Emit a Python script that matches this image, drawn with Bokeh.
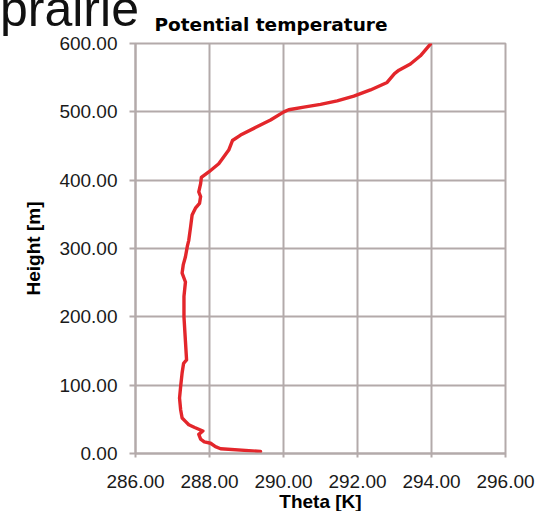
from bokeh.plotting import figure
from bokeh.layouts import column
from bokeh.models import FixedTicker, NumeralTickFormatter, Range1d, Div
from bokeh.embed import file_html
from bokeh.resources import INLINE

# Potential temperature profile (height in m, theta in K), surface upward
height = [3, 7, 10, 15, 17, 21, 28, 33, 38, 42, 47, 52, 64, 81, 98, 118, 132, 137,
          164, 200, 230, 251, 264, 276, 288, 303, 312, 332, 349, 359, 366, 376,
          383, 395, 404, 412, 424, 444, 458, 466, 477, 488, 500, 503, 507, 511,
          516, 523, 532, 543, 556, 561, 570, 582, 599]
theta = [289.38, 288.30, 288.16, 288.03, 287.86, 287.76, 287.71, 287.82, 287.60,
         287.44, 287.35, 287.26, 287.22, 287.19, 287.22, 287.26, 287.30, 287.38,
         287.35, 287.31, 287.31, 287.35, 287.26, 287.29, 287.35, 287.40, 287.44,
         287.49, 287.53, 287.62, 287.73, 287.76, 287.71, 287.76, 287.78, 287.98,
         288.25, 288.52, 288.62, 288.84, 289.24, 289.65, 290.01, 290.14, 290.55,
         291.00, 291.45, 291.90, 292.35, 292.80, 293.00, 293.12, 293.43, 293.70,
         293.97]

x_ticks = [286, 288, 290, 292, 294, 296]
y_ticks = [0, 100, 200, 300, 400, 500, 600]

GRID = "#b3aaaa"
FONT = "Liberation Sans"

p = figure(width=544, height=514, output_backend="svg", toolbar_location=None,
           x_range=Range1d(286, 296), y_range=Range1d(0, 600),
           min_border_left=135, min_border_right=39,
           min_border_top=43, min_border_bottom=60)

p.background_fill_color = "white"
p.border_fill_color = None   # transparent, the slide heading shows through
p.outline_line_color = GRID
p.outline_line_width = 2

# Chart title, left aligned a little inside the frame
p.title.text = "Potential temperature"
p.title.align = "left"
p.title.offset = 19
p.title.standoff = 17
p.title.text_font = "DejaVu Sans"
p.title.text_font_style = "bold"
p.title.text_font_size = "18.5px"
p.title.text_color = "#000000"

p.line(theta, height, line_color="#e3262b", line_width=3.4,
       line_join="round", line_cap="round")

for ax in (p.xaxis[0], p.yaxis[0]):
    ax.axis_line_color = GRID
    ax.axis_line_width = 2
    ax.major_tick_line_color = GRID
    ax.major_tick_line_width = 2
    ax.minor_tick_line_color = None
    ax.major_tick_in = 0
    ax.formatter = NumeralTickFormatter(format="0.00")
    ax.major_label_text_font = FONT
    ax.major_label_text_font_size = "19px"
    ax.major_label_text_color = "#1a1a1a"
    ax.axis_label_text_font = FONT
    ax.axis_label_text_font_size = "19px"
    ax.axis_label_text_font_style = "bold"
    ax.axis_label_text_color = "#000000"

p.xaxis.ticker = FixedTicker(ticks=x_ticks)
p.yaxis.ticker = FixedTicker(ticks=y_ticks)
p.xaxis.axis_label = "Theta [K]"
p.yaxis.axis_label = "Height [m]"
p.xaxis.major_tick_out = 4
p.yaxis.major_tick_out = 6
p.xaxis.major_label_standoff = 17
p.xaxis.axis_label_standoff = 0
p.yaxis.major_label_standoff = 12
p.yaxis.axis_label_standoff = 12

p.xgrid.ticker = FixedTicker(ticks=x_ticks)
p.ygrid.ticker = FixedTicker(ticks=y_ticks)
for g in (p.xgrid[0], p.ygrid[0]):
    g.grid_line_color = GRID
    g.grid_line_width = 2

# Slide heading fragment, partly running off the top-left corner
heading = Div(
    text=('<div style="position:absolute; left:0px; top:-16px; '
          "font-family:'Liberation Sans'; font-size:50px; line-height:50px; "
          'color:#111111; white-space:nowrap;">prairie</div>'),
    width=544, height=0, margin=0, styles={"overflow": "visible"})

layout = column(heading, p, spacing=0)

open("out.html", "w").write(file_html(layout, INLINE))
